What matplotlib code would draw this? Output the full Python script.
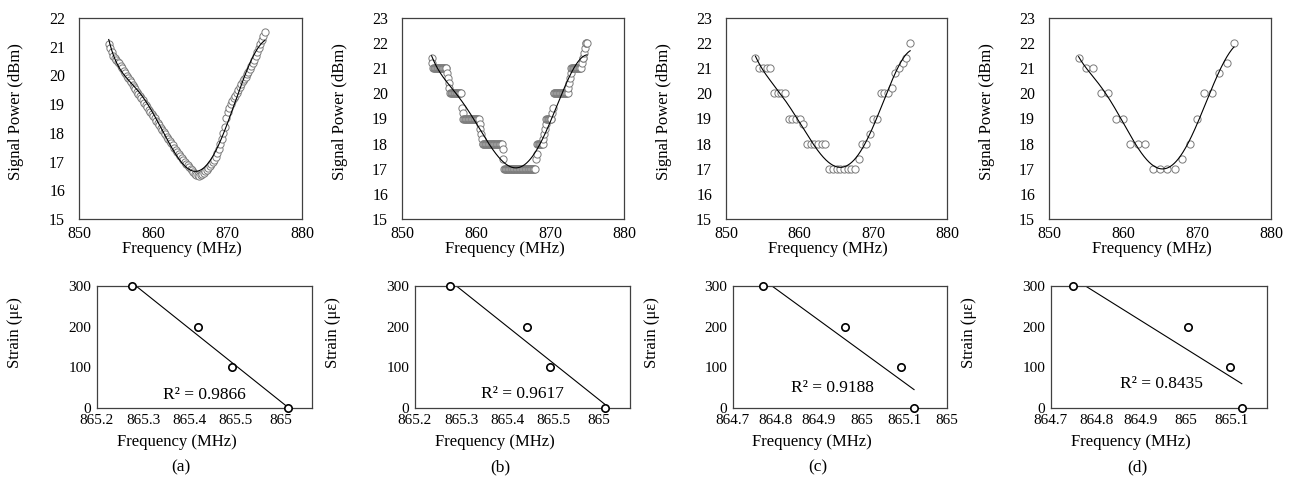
import matplotlib.pyplot as plt
import numpy as np
from numpy.polynomial import Polynomial

plt.rcParams["font.family"] = ["Liberation Serif", "DejaVu Serif"]

# --- Signal power sweeps (top row) ---------------------------------------
# (a) and (b) are uniform frequency sweeps, (c) and (d) are coarser sweeps.
FREQ_A = np.round(np.arange(854.0, 875.01, 0.2), 1)
POWER_A = [
    21.10, 20.95, 20.82, 20.68, 20.60, 20.52, 20.47, 20.42, 20.34, 20.25,
    20.15, 20.07, 19.99, 19.91, 19.83, 19.76, 19.68, 19.60, 19.52, 19.44,
    19.36, 19.28, 19.21, 19.13, 19.05, 18.97, 18.89, 18.81, 18.73, 18.66,
    18.58, 18.50, 18.42, 18.34, 18.26, 18.18, 18.11, 18.03, 17.95, 17.87,
    17.80, 17.72, 17.64, 17.56, 17.49, 17.42, 17.35, 17.28, 17.21, 17.14,
    17.07, 17.00, 16.93, 16.87, 16.81, 16.75, 16.69, 16.63, 16.58, 16.54,
    16.52, 16.51, 16.52, 16.55, 16.60, 16.66, 16.72, 16.78, 16.83, 16.90,
    16.98, 17.07, 17.17, 17.30, 17.45, 17.62, 17.78, 17.98, 18.22, 18.50,
    18.72, 18.88, 19.00, 19.10, 19.20, 19.30, 19.40, 19.50, 19.60, 19.70,
    19.80, 19.88, 19.96, 20.04, 20.12, 20.22, 20.32, 20.42, 20.54, 20.66,
    20.80, 20.94, 21.08, 21.22, 21.36, 21.50,
]

FREQ_B = np.round(np.arange(854.0, 875.01, 0.1), 1)
POWER_B = [
    21.4, 21.2,
    21, 21, 21, 21, 21, 21, 21, 21, 21, 21,
    21, 21, 21, 21, 21, 21, 21, 21, 21,
    20.8, 20.6, 20.4, 20.2,
    20, 20, 20, 20, 20, 20, 20, 20, 20, 20,
    20, 20, 20, 20, 20, 20,
    19.4, 19.2,
    19, 19, 19, 19, 19, 19, 19, 19, 19, 19,
    19, 19, 19, 19, 19, 19, 19, 19, 19, 19,
    19, 19,
    18.8, 18.6, 18.4, 18.2,
    18, 18, 18, 18, 18, 18, 18, 18, 18, 18,
    18, 18, 18, 18, 18, 18, 18, 18, 18, 18,
    18, 18, 18, 18, 18, 18, 18,
    17.8, 17.4,
    17, 17, 17, 17, 17, 17, 17, 17, 17, 17,
    17, 17, 17, 17, 17, 17, 17, 17, 17, 17,
    17, 17, 17, 17, 17, 17, 17, 17, 17, 17,
    17, 17, 17, 17, 17, 17, 17, 17, 17, 17,
    17, 17, 17,
    17.4, 17.6,
    18, 18, 18, 18, 18, 18, 18, 18,
    18.2, 18.4, 18.6, 18.8,
    19, 19, 19, 19, 19, 19, 19, 19,
    19.2, 19.4,
    20, 20, 20, 20, 20, 20, 20, 20, 20, 20,
    20, 20, 20, 20, 20, 20, 20, 20, 20, 20,
    20.2, 20.4, 20.6, 20.8,
    21, 21, 21, 21, 21, 21, 21, 21, 21, 21,
    21, 21, 21, 21,
    21.2, 21.4, 21.4, 21.6, 21.8, 22, 22, 22,
]

FREQ_C = [
    854.0, 854.5, 855.0, 855.5, 856.0, 856.5, 857.0, 857.5, 858.0, 858.5,
    859.0, 859.5, 860.0, 860.5, 861.0, 861.5, 862.0, 862.5, 863.0, 863.5,
    864.0, 864.5, 865.0, 865.5, 866.0, 866.5, 867.0, 867.5, 868.0, 868.5,
    869.0, 869.5, 870.0, 870.5, 871.0, 871.5, 872.0, 872.5, 873.0, 873.5,
    874.0, 874.5, 875.0,
]
POWER_C = [
    21.4, 21, 21, 21, 21, 20, 20, 20, 20, 19,
    19, 19, 19, 18.8, 18, 18, 18, 18, 18, 18,
    17, 17, 17, 17, 17, 17, 17, 17, 17.4, 18,
    18, 18.4, 19, 19, 20, 20, 20, 20.2, 20.8, 21,
    21.2, 21.4, 22,
]

FREQ_D = [
    854, 855, 856, 857, 858, 859, 860, 861, 862, 863, 864,
    865, 866, 867, 868, 869, 870, 871, 872, 873, 874, 875,
]
POWER_D = [
    21.4, 21, 21, 20, 20, 19, 19, 18, 18, 18, 17,
    17, 17, 17, 17.4, 18, 19, 20, 20, 20.8, 21.2, 22,
]

# --- Strain vs. resonant frequency (bottom row) -------------------------
STRAIN = [300, 200, 100, 0]
PEAK_A = [865.275, 865.420, 865.494, 865.614]
PEAK_B = [865.275, 865.443, 865.494, 865.613]
PEAK_C = [864.769, 864.962, 865.092, 865.123]
PEAK_D = [864.748, 865.004, 865.098, 865.124]
R2_TEXT = ["R² = 0.9866", "R² = 0.9617", "R² = 0.9188", "R² = 0.8435"]

TICKS_AB = [865.2, 865.3, 865.4, 865.5, 865.6]
LABELS_AB = ["865.2", "865.3", "865.4", "865.5", "865"]
TICKS_C = [864.7, 864.8, 864.9, 865.0, 865.1, 865.2]
LABELS_C = ["864.7", "864.8", "864.9", "865", "865.1", "865"]
TICKS_D = [864.7, 864.8, 864.9, 865.0, 865.1]
LABELS_D = ["864.7", "864.8", "864.9", "865", "865.1"]
XLIMS = [(865.2, 865.667), (865.2, 865.667), (864.7, 865.2), (864.7, 865.18)]

PANEL_NAMES = ["(a)", "(b)", "(c)", "(d)"]

# Figure layout in pixels (figure is 1293 x 493).
W, H = 1293, 493
TOP_BOXES = [(79, 302), (402, 624), (726, 947), (1049, 1271)]
TOP_Y = (18, 219)
BOTTOM_BOXES = [(97, 312), (415, 630), (733, 947), (1051, 1267)]
BOTTOM_Y = (286, 408)
PANEL_X = [181, 500, 818, 1137]
PANEL_Y = 467
R2_POS = [(0.50, 0.107), (0.50, 0.115), (0.465, 0.16), (0.51, 0.193)]

FRAME = "#404040"


def make_axes(fig, xs, ys):
    left, right = xs
    top, bottom = ys
    return fig.add_axes([left / W, 1 - bottom / H, (right - left) / W, (bottom - top) / H])


def style_frame(ax):
    for spine in ax.spines.values():
        spine.set_color(FRAME)
        spine.set_linewidth(0.9)


def draw_power(ax, freq, power, ymax):
    ax.plot(freq, power, linestyle="none", marker="o", markersize=5.2,
            markerfacecolor="white", markeredgecolor="#7a7a7a", markeredgewidth=0.7,
            clip_on=False, zorder=2)
    trend = Polynomial.fit(freq, power, 6)
    xs = np.linspace(min(freq), max(freq), 400)
    ax.plot(xs, trend(xs), color="black", linewidth=0.8, zorder=3)
    ax.set_xlim(850, 880)
    ax.set_ylim(15, ymax)
    ax.set_xticks([850, 860, 870, 880])
    ax.set_yticks(range(15, ymax + 1))
    ax.tick_params(length=0, labelsize=11.5)
    ax.tick_params(axis="x", pad=5)
    ax.tick_params(axis="y", pad=10)
    ax.set_xlabel("Frequency (MHz)", fontsize=12)
    ax.set_ylabel("Signal Power (dBm)", fontsize=12)
    ax.xaxis.set_label_coords(0.462, -0.11)
    ax.yaxis.set_label_coords(-0.245, 0.537)
    style_frame(ax)


def draw_strain(ax, peaks, r2_text, r2_pos, ticks, labels, xlim):
    ax.plot(peaks, STRAIN, linestyle="none", marker="o", markersize=5.3,
            markerfacecolor="white", markeredgecolor="black", markeredgewidth=1.2,
            clip_on=False, zorder=3)
    fit = Polynomial.fit(peaks, STRAIN, 1)
    xs = np.array([min(peaks), max(peaks)])
    ax.plot(xs, fit(xs), color="black", linewidth=0.8, zorder=2)
    ax.set_xlim(*xlim)
    ax.set_ylim(0, 300)
    ax.set_xticks(ticks)
    ax.set_xticklabels(labels)
    ax.set_yticks([0, 100, 200, 300])
    ax.tick_params(length=0, labelsize=11, pad=4)
    ax.set_xlabel("Frequency (MHz)", fontsize=12)
    ax.set_ylabel("Strain (με)", fontsize=12)
    ax.xaxis.set_label_coords(0.37, -0.21)
    ax.yaxis.set_label_coords(-0.342, 0.615)
    ax.text(r2_pos[0], r2_pos[1], r2_text, transform=ax.transAxes,
            ha="center", va="center", fontsize=12.5)
    style_frame(ax)


def main():
    fig = plt.figure(figsize=(W / 100, H / 100), dpi=100)

    sweeps = [(FREQ_A, POWER_A, 22), (FREQ_B, POWER_B, 23),
              (FREQ_C, POWER_C, 23), (FREQ_D, POWER_D, 23)]
    for box, (freq, power, ymax) in zip(TOP_BOXES, sweeps):
        draw_power(make_axes(fig, box, TOP_Y), freq, power, ymax)

    strain_sets = [
        (PEAK_A, TICKS_AB, LABELS_AB),
        (PEAK_B, TICKS_AB, LABELS_AB),
        (PEAK_C, TICKS_C, LABELS_C),
        (PEAK_D, TICKS_D, LABELS_D),
    ]
    for box, (peaks, ticks, labels), xlim, r2, pos in zip(BOTTOM_BOXES, strain_sets, XLIMS, R2_TEXT, R2_POS):
        draw_strain(make_axes(fig, box, BOTTOM_Y), peaks, r2, pos, ticks, labels, xlim)

    for name, x in zip(PANEL_NAMES, PANEL_X):
        fig.text(x / W, 1 - PANEL_Y / H, name, ha="center", va="center", fontsize=12.5)

    fig.savefig("out.png", dpi=100)
    plt.close(fig)


if __name__ == "__main__":
    main()
